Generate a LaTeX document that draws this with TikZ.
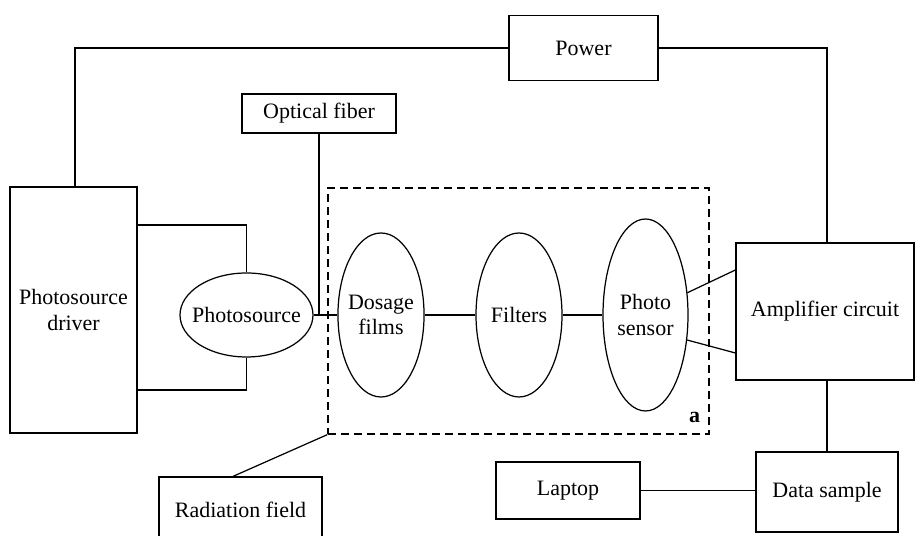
\documentclass[tikz,border=0pt]{standalone}
\usepackage{fontspec}
\setmainfont{Liberation Serif}
\usetikzlibrary{shapes.geometric}

\begin{document}
\begin{tikzpicture}[line width=0.7pt, every node/.style={font=\fontsize{12.5}{14.5}\selectfont},
    box/.style={draw, rectangle, align=center},
    lens/.style={draw, ellipse, align=center, inner ysep=0pt, inner xsep=-0.05cm, minimum width=1.72cm, minimum height=3.28cm},
    zonebox/.style={draw, rectangle, dash pattern=on 0.16cm off 0.1cm}]
        \clip (0,0) rectangle (18.3,10.72);

        % Source side
        \node[box, minimum width=2.54cm, minimum height=4.92cm] (driver) at (1.47, 4.52) {Photosource\\driver};
        \node[draw, ellipse, inner ysep=0pt, inner xsep=-0.16cm, minimum width=2.66cm, minimum height=1.68cm] (source) at (4.93, 4.42) {Photosource};
        \node[box, minimum width=3.08cm, minimum height=0.78cm] (fiber) at (6.38, 8.45) {Optical fiber};
        \node[box, minimum width=2.98cm, minimum height=1.30cm] (power) at (11.67, 9.76) {Power};

        % Irradiated zone
        \node[zonebox, minimum width=7.62cm, minimum height=4.92cm] (zone) at (10.37, 4.50) {};
        \node[lens] (films) at (7.62, 4.42) {Dosage\\films};
        \node[lens] (filters) at (10.38, 4.42) {Filters};
        \node[lens, minimum width=1.70cm, minimum height=3.84cm] (sensor) at (12.91, 4.42) {Photo\\sensor};
        \node[anchor=south east, font=\fontsize{12.5}{14.5}\selectfont\bfseries, inner sep=0pt] (alabel) at ([xshift=-0.18cm, yshift=0.22cm]zone.south east) {a};

        % Readout side
        \node[box, minimum width=3.56cm, minimum height=2.74cm] (amp) at (16.50, 4.49) {Amplifier circuit};
        \node[box, minimum width=2.84cm, minimum height=1.60cm] (sample) at (16.54, 0.88) {Data sample};
        \node[box, minimum width=2.88cm, minimum height=1.14cm] (laptop) at (11.36, 0.91) {Laptop};
        \node[box, minimum width=3.26cm, minimum height=1.32cm] (field) at (4.81, 0.52) {Radiation field};

        % Connections
        \draw ([xshift=0.03cm]driver.north) |- (power.west);
        \draw (power.east) -| ([xshift=0.04cm]amp.north);
        \draw ([yshift=1.70cm]driver.east) -| (source.north);
        \draw ([yshift=-1.60cm]driver.east) -| (source.south);
        \draw (source.east) -- (films.west);
        \draw (fiber.south) -- (fiber.south |- source.east);
        \draw (films.east) -- (filters.west);
        \draw (filters.east) -- (sensor.west);
        \draw (sensor.28) -- ([yshift=0.83cm]amp.west);
        \draw (sensor.-31) -- ([yshift=-0.83cm]amp.west);
        \draw ([xshift=0.04cm]amp.south) -- ([xshift=0.04cm]amp.south |- sample.north);
        \draw (laptop.east) -- (laptop.east -| sample.west);
        \draw ([xshift=-0.15cm]field.north) -- (zone.south west);
    \end{tikzpicture}
\end{document}
